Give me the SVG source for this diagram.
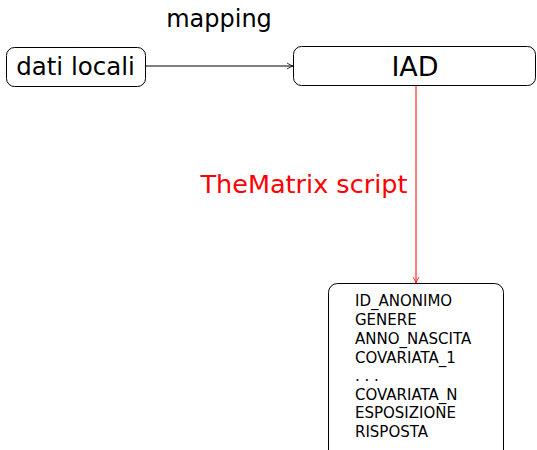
<svg xmlns="http://www.w3.org/2000/svg" width="537" height="450" viewBox="0 0 537 450">
<style>
.box{fill:#fff;stroke:#000;stroke-width:1;}
.t{font-family:"DejaVu Sans",sans-serif;fill:#000;}
.big{font-size:24.5px;}
.sm{font-size:15px;}
</style>
<defs>
<marker id="ab" markerWidth="8" markerHeight="8" refX="7" refY="4" orient="auto" markerUnits="userSpaceOnUse">
<path d="M1,1 Q4,3 7,4 Q4,5 1,7" fill="none" stroke="#000" stroke-width="0.8"/>
</marker>
<marker id="ar" markerWidth="8" markerHeight="8" refX="7" refY="4" orient="auto" markerUnits="userSpaceOnUse">
<path d="M1,1 Q4,3 7,4 Q4,5 1,7" fill="none" stroke="#f00" stroke-width="0.8"/>
</marker>
</defs>
<g id="connectors">
<line x1="146" y1="66" x2="293" y2="66" stroke="#000" stroke-width="1" marker-end="url(#ab)"/>
<text class="t" x="219" y="27" text-anchor="middle" font-size="24">mapping</text>
<line x1="416" y1="85" x2="416" y2="283" stroke="#f00" stroke-width="1" marker-end="url(#ar)"/>
<text class="t" x="304" y="193" text-anchor="middle" font-size="25.5" style="fill:#f00">TheMatrix script</text>
</g>
<g id="dati">
<rect class="box" x="6.5" y="47.5" width="139" height="39" rx="8"/>
<text class="t big" x="75.5" y="75" text-anchor="middle">dati locali</text>
</g>
<g id="iad">
<rect class="box" x="293.5" y="46.5" width="242" height="39" rx="8"/>
<text class="t" x="415" y="76" text-anchor="middle" font-size="27">IAD</text>
</g>
<g id="vars">
<rect class="box" x="328.5" y="283.5" width="175" height="180" rx="9"/>
<text class="t sm" x="355" y="306">ID_ANONIMO</text>
<text class="t sm" x="355" y="325">GENERE</text>
<text class="t sm" x="355" y="344">ANNO_NASCITA</text>
<text class="t sm" x="355" y="362.5">COVARIATA_1</text>
<text class="t sm" x="355" y="381">. . .</text>
<text class="t sm" x="355" y="399.5">COVARIATA_N</text>
<text class="t sm" x="355" y="418">ESPOSIZIONE</text>
<text class="t sm" x="355" y="436.5">RISPOSTA</text>
</g>
</svg>
